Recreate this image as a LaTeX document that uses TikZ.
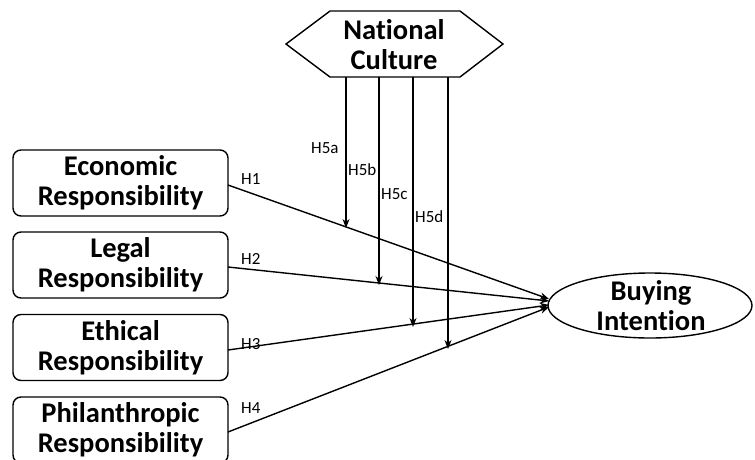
\documentclass[tikz,border=0pt]{standalone}
\usepackage{fontspec}
\setmainfont{Carlito}[Ligatures={NoCommon}]
\usetikzlibrary{arrows.meta,shapes.geometric}
\begin{document}
\begin{tikzpicture}[x=1pt,y=-1pt,
  box/.style={draw,line width=1.4pt,rounded corners=8pt,minimum width=215pt,minimum height=66pt,align=center,font=\fontsize{28.5}{30}\selectfont\bfseries,inner sep=0pt},
  conn/.style={line width=1.4pt,-{Stealth[length=9pt,width=7pt]}},
  lab/.style={font=\fontsize{17}{19}\selectfont,inner sep=0pt,anchor=south west},
  big/.style={font=\fontsize{28.5}{30}\selectfont\bfseries,align=center,inner sep=0pt}]
\useasboundingbox (0,0) rectangle (755,459);
\node[box] (eco) at (120.5,183) {Economic\\Responsibility};
\node[box] (leg) at (120.5,265) {Legal\\Responsibility};
\node[box] (eth) at (120.5,347.5) {Ethical\\Responsibility};
\node[box] (phi) at (120.5,430) {Philanthropic\\Responsibility};
% hexagon
\draw[line width=1.4pt] (286,44) -- (330,11) -- (460,11) -- (503,44) -- (460,77) -- (330,77) -- cycle;
\node[big] (nc) at (394,45) {National\\Culture};
% ellipse
\node[draw,ellipse,line width=1.4pt,minimum width=204pt,minimum height=65pt,inner sep=0pt] (bi) at (650,305.5) {};
\node[big] (bt) at (651,306) {Buying\\Intention};
% endpoints
\coordinate (s1) at (228,185);
\coordinate (s2) at (228,267);
\coordinate (s3) at (228,350);
\coordinate (s4) at (228,432);
\coordinate (t1) at (549,299);
\coordinate (t2) at (549,301);
\coordinate (t3) at (549,305);
\coordinate (t4) at (549,307);
\draw[conn] (s1) -- (t1);
\draw[conn] (s2) -- (t2);
\draw[conn] (s3) -- (t3);
\draw[conn] (s4) -- (t4);
\node[lab] (h1) at (241,185) {H1};
\node[lab] (h2) at (241,265) {H2};
\node[lab] (h3) at (241,350) {H3};
\node[lab] (h4) at (241,414) {H4};
% moderating arrows
\coordinate (m1) at (346,77);
\coordinate (m2) at (379,77);
\coordinate (m3) at (413,77);
\coordinate (m4) at (448,77);
\coordinate (n1) at (346,228);
\coordinate (n2) at (379,285);
\coordinate (n3) at (413,327);
\coordinate (n4) at (448,349);
\draw[conn] (m1) -- (n1);
\draw[conn] (m2) -- (n2);
\draw[conn] (m3) -- (n3);
\draw[conn] (m4) -- (n4);
\node[lab] (h5a) at (311,154) {H5a};
\node[lab] (h5b) at (348,176) {H5b};
\node[lab] (h5c) at (381,200) {H5c};
\node[lab] (h5d) at (415,223) {H5d};
\end{tikzpicture}
\end{document}
